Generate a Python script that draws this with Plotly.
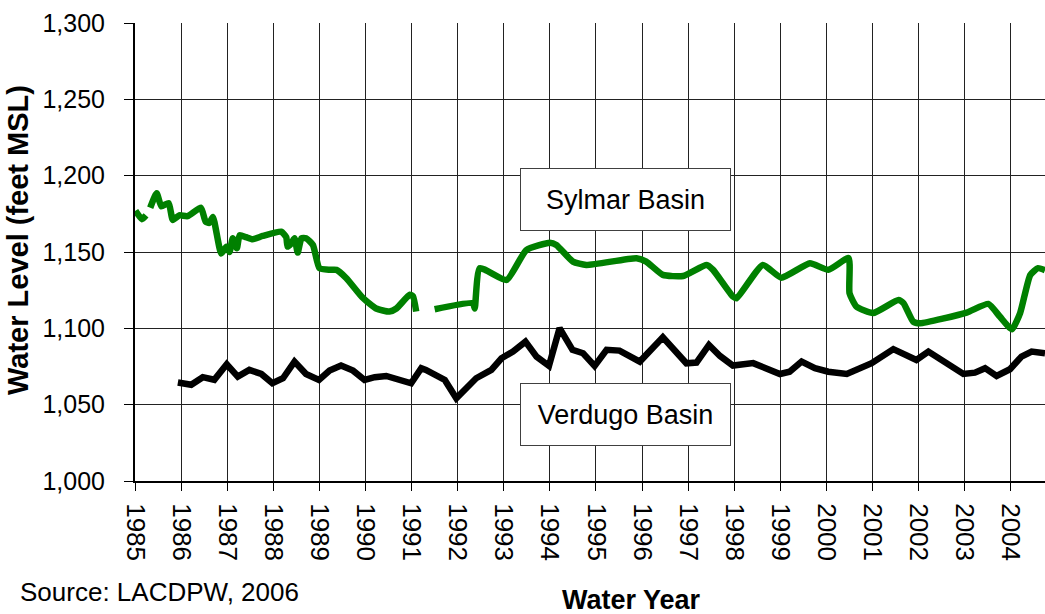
import plotly.graph_objects as go

# Sylmar Basin water level (feet MSL); None marks gaps in the record
sylmar_year = [
    1985.01, 1985.15, 1985.24, None,
    1985.33, 1985.47, 1985.57, 1985.73, 1985.82, 1985.96, 1986.14, 1986.43,
    1986.53, 1986.61, 1986.69, 1986.87, 1986.98, 1987.05, 1987.12, 1987.21,
    1987.27, 1987.41, 1987.55, 1987.77, 1988.17, 1988.28, 1988.31, 1988.39,
    1988.46, 1988.53, 1988.61, 1988.71, 1988.86, 1989.00, 1989.22, 1989.37,
    1989.58, 1989.94, 1990.23, 1990.52, 1990.67, 1990.96, 1991.03, 1991.10, None,
    1991.50, 1992.33, 1992.37, 1992.48, 1993.06, 1993.49, 1994.00, 1994.14,
    1994.50, 1994.79, 1995.88, 1996.09, 1996.45, 1996.89, 1997.40, 1997.54,
    1997.97, 1998.05, 1998.62, 1999.02, 1999.64, 2000.04, 2000.48, 2000.50,
    2000.65, 2001.01, 2001.56, 2001.67, 2001.88, 2002.03, 2003.04, 2003.51,
    2003.76, 2004.02, 2004.20, 2004.42, 2004.59, 2004.74,
]
sylmar_level = [
    1177, 1171.5, 1174, None,
    1179, 1188.5, 1180, 1182, 1171, 1174, 1173.5, 1179,
    1170, 1169, 1173, 1149, 1153.5, 1150, 1159, 1152.5,
    1161, 1159.7, 1158.3, 1160.5, 1163.3, 1159.7, 1153.5, 1155.7,
    1159, 1149.6, 1159, 1159, 1154.6, 1139.4, 1138.3, 1138.3,
    1133, 1120, 1113, 1111, 1113, 1122, 1121, 1111, None,
    1112.5, 1116.5, 1113, 1139.4, 1131.7, 1151.3, 1156, 1154.6,
    1143.7, 1141.5, 1145.9, 1143.7, 1135, 1134.3, 1141.5, 1138.3,
    1120.8, 1119.7, 1141.5, 1133.2, 1142.6, 1138.3, 1146, 1123,
    1114.2, 1110, 1118.6, 1116.5, 1104.4, 1103.3, 1110.3, 1116,
    1107.7, 1099.4, 1110, 1135, 1139.4, 1138,
]

# Verdugo Basin water level (feet MSL)
verdugo_year = [
    1985.93, 1986.22, 1986.47, 1986.72, 1986.99, 1987.23, 1987.48, 1987.74,
    1987.98, 1988.21, 1988.46, 1988.71, 1988.99, 1989.22, 1989.47, 1989.73,
    1989.98, 1990.20, 1990.45, 1990.70, 1990.99, 1991.21, 1991.31, 1991.72,
    1991.97, 1992.40, 1992.73, 1992.95, 1993.20, 1993.47, 1993.71, 1993.98,
    1994.21, 1994.49, 1994.72, 1994.97, 1995.23, 1995.51, 1995.95, 1996.45,
    1996.96, 1997.18, 1997.45, 1997.69, 1997.97, 1998.41, 1998.99, 1999.20,
    1999.46, 1999.75, 2000.04, 2000.44, 2000.98, 2001.45, 2001.74, 2001.95,
    2002.21, 2002.61, 2002.97, 2003.22, 2003.44, 2003.69, 2003.98, 2004.23,
    2004.45, 2004.74,
]
verdugo_level = [
    1064.5, 1063, 1068, 1066.3, 1076.5, 1068.4, 1072.8, 1070.1,
    1064, 1067.3, 1078.2, 1070.1, 1066.2, 1072.3, 1075.6, 1072.3,
    1066.2, 1068, 1068.8, 1066.7, 1064, 1073.9, 1072.8, 1066.2,
    1054.2, 1067.3, 1072.8, 1080.4, 1084.8, 1091.3, 1081.5, 1075.4,
    1100.1, 1085.9, 1083.7, 1075.4, 1085.9, 1085.4, 1078.2, 1094.1,
    1077.1, 1077.6, 1089.1, 1081.9, 1075.6, 1077.2, 1070.1, 1071.6,
    1078.2, 1073.9, 1071.6, 1070.1, 1077.2, 1086.4, 1082.6, 1079.3,
    1084.8, 1077.2, 1070.1, 1071, 1073.9, 1068.8, 1073.2, 1081.5,
    1084.8, 1083.7,
]

year_ticks = list(range(1985, 2005))
level_ticks = list(range(1000, 1301, 50))

FONT = "Liberation Sans, Arial, sans-serif"

# plot area in pixels
L, R, T, B = 135, 0, 23, 133
W, H = 1045, 614
PW, PH = W - L - R, H - T - B


def px_x(x):
    return (x - L) / PW


def px_y(y):
    return (H - B - y) / PH


fig = go.Figure()
fig.add_trace(go.Scatter(
    x=sylmar_year, y=sylmar_level, mode="lines", connectgaps=False,
    line=dict(color="#008000", width=6.5, shape="spline", smoothing=0.5),
    name="Sylmar Basin", showlegend=False,
))
fig.add_trace(go.Scatter(
    x=verdugo_year, y=verdugo_level, mode="lines",
    line=dict(color="#000000", width=6.5),
    name="Verdugo Basin", showlegend=False,
))

box = dict(bgcolor="white", bordercolor="#404040", borderwidth=1, borderpad=0,
           width=209, height=61, font=dict(family=FONT, size=27, color="black"),
           showarrow=False, xref="x", yref="y")
fig.add_annotation(x=1995.63, y=1184.7, text="Sylmar Basin", **box)
fig.add_annotation(x=1995.63, y=1043.3, text="Verdugo Basin", **box)

fig.add_annotation(x=px_x(18), y=px_y(592), xref="paper", yref="paper",
                   text="Source: LACDPW, 2006", showarrow=False,
                   xanchor="left", yanchor="middle",
                   font=dict(family=FONT, size=26, color="black"))
fig.add_annotation(x=px_x(631), y=px_y(600), xref="paper", yref="paper",
                   text="<b>Water Year</b>", showarrow=False,
                   xanchor="center", yanchor="middle",
                   font=dict(family=FONT, size=27, color="black"))
fig.add_annotation(x=px_x(18), y=px_y(240), xref="paper", yref="paper",
                   text="<b>Water Level (feet MSL)</b>", showarrow=False,
                   textangle=-90, xanchor="center", yanchor="middle",
                   font=dict(family=FONT, size=29, color="black"))

fig.update_layout(
    width=W, height=H,
    margin=dict(l=L, r=R, t=T, b=B),
    paper_bgcolor="white", plot_bgcolor="white",
    font=dict(family=FONT, size=25, color="black"),
)

fig.update_xaxes(
    range=[1985, 2004.74], tickvals=year_ticks, ticktext=[str(v) for v in year_ticks],
    tickangle=90, showgrid=True, gridcolor="#222222", gridwidth=1,
    showline=True, linecolor="black", linewidth=2,
    ticks="outside", ticklen=8, tickcolor="black",
    ticklabelstandoff=7,
    tickfont=dict(family=FONT, size=26),
    zeroline=False,
)
fig.update_yaxes(
    range=[1000, 1300], tickvals=level_ticks,
    ticktext=[f"{v:,}" for v in level_ticks],
    showgrid=True, gridcolor="#222222", gridwidth=1,
    showline=True, linecolor="black", linewidth=2,
    ticks="outside", ticklen=9, tickcolor="black",
    ticklabelstandoff=14,
    tickfont=dict(family=FONT, size=25),
    zeroline=False,
)

fig.write_html("out.html")
